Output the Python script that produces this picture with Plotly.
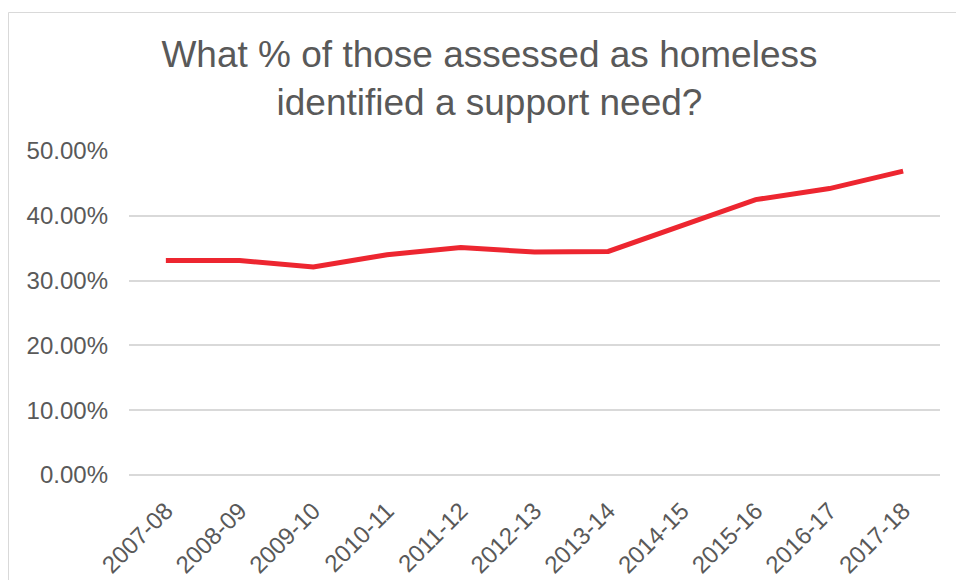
import plotly.graph_objects as go

# Financial years and share of homeless assessments with a support need
years = ["2007-08", "2008-09", "2009-10", "2010-11", "2011-12", "2012-13",
         "2013-14", "2014-15", "2015-16", "2016-17", "2017-18"]
support_share = [0.331, 0.331, 0.321, 0.340, 0.351, 0.344,
                 0.345, 0.386, 0.425, 0.442, 0.469]

y_ticks = [0, 0.1, 0.2, 0.3, 0.4, 0.5]

TEXT = "#595959"
GRID = "#D9D9D9"
FONT = "Liberation Sans, Arial, sans-serif"

fig = go.Figure(
    go.Scatter(
        x=years,
        y=support_share,
        mode="lines",
        line=dict(color="#ED2630", width=5),
        hoverinfo="skip",
    )
)

# plot area geometry (pixels) used to place the outer frame in paper coords
W, H = 956, 580
ML, MR, MT, MB = 129, 16, 151, 105
pw, ph = W - ML - MR, H - MT - MB

def px_x(p):
    return (p - ML) / pw

def px_y(p):
    return (H - MB - p) / ph

fig.add_shape(
    type="rect", xref="paper", yref="paper",
    x0=px_x(8.5), x1=px_x(W + 20), y0=px_y(H + 20), y1=px_y(12.5),
    line=dict(color=GRID, width=1), fillcolor="rgba(0,0,0,0)", layer="below",
)

fig.update_layout(
    width=W, height=H,
    margin=dict(l=ML, r=MR, t=MT, b=MB, autoexpand=False),
    paper_bgcolor="white", plot_bgcolor="white",
    showlegend=False,
    font=dict(family=FONT, color=TEXT),
    title=dict(
        text="What % of those assessed as homeless<br>identified a support need?",
        x=0.512, xanchor="center", xref="container",
        y=1 - 67 / H, yanchor="top", yref="container",
        font=dict(size=37, color=TEXT, family=FONT),
        automargin=False,
    ),
    xaxis=dict(
        type="category",
        range=[-0.5, len(years) - 0.5],
        tickangle=-45,
        tickfont=dict(size=24, color=TEXT),
        showgrid=False, showline=False, zeroline=False,
        ticks="", ticklabelstandoff=16,
        automargin=False, fixedrange=True,
    ),
    yaxis=dict(
        range=[0, 0.5],
        tickvals=y_ticks,
        tickformat=".2%",
        tickfont=dict(size=24, color=TEXT),
        showgrid=True, gridcolor=GRID, gridwidth=1.5,
        zeroline=True, zerolinecolor=GRID, zerolinewidth=1.5,
        showline=False, ticks="", ticklabelstandoff=20,
        automargin=False, fixedrange=True,
    ),
)

fig.write_html("out.html")
